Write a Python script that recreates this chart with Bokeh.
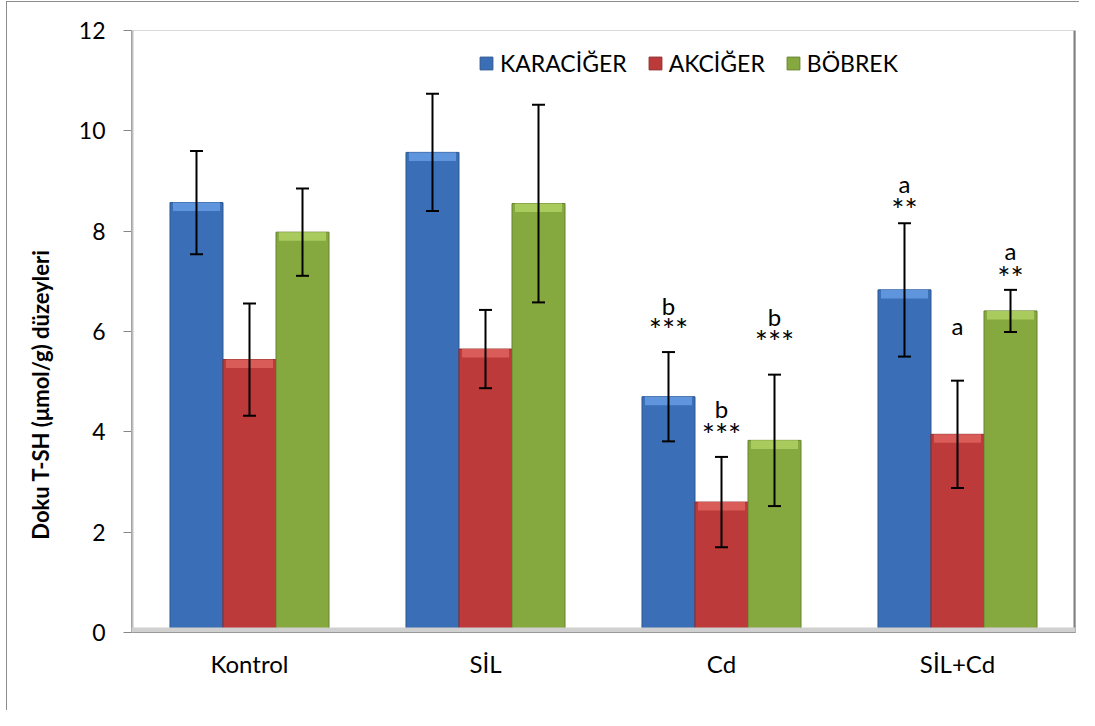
from bokeh.plotting import figure
from bokeh.models import (ColumnDataSource, Whisker, Legend, LegendItem,
                          Span, FactorRange, Range1d, FixedTicker, TeeHead)
from bokeh.transform import dodge
from bokeh.core.properties import value
from bokeh.embed import file_html
from bokeh.resources import INLINE

# ---------------- data ----------------
groups = ["Kontrol", "SİL", "Cd", "SİL+Cd"]
series = ["KARACİĞER", "AKCİĞER", "BÖBREK"]

karaciger = [8.57, 9.57, 4.70, 6.83]
karaciger_sd = [1.03, 1.17, 0.89, 1.33]
akciger = [5.44, 5.65, 2.60, 3.95]
akciger_sd = [1.12, 0.78, 0.90, 1.07]
bobrek = [7.98, 8.55, 3.83, 6.41]
bobrek_sd = [0.87, 1.97, 1.31, 0.42]

y_ticks = [0, 2, 4, 6, 8, 10, 12]
y_title = "Doku T-SH (μmol/g) düzeyleri"

# significance marks (group, series index, letter, stars)
sig_groups = ["Cd", "Cd", "Cd", "SİL+Cd", "SİL+Cd", "SİL+Cd"]
sig_series = [0, 1, 2, 0, 1, 2]
sig_letters = ["b", "b", "b", "a", "a", "a"]
sig_letter_y = [6.52, 4.47, 6.30, 8.95, 6.11, 7.62]
sig_stars = ["***", "***", "***", "**", "", "**"]
sig_star_y = [6.16, 4.07, 5.94, 8.57, 0.0, 7.21]

# ---------------- styling ----------------
FONT = "Lato"
bar_w = 0.2246
offsets = [-bar_w, 0.0, bar_w]
fills = ["#3A6FB7", "#BC3A3A", "#86A93F"]
lights = ["#5E95DD", "#D95C58", "#A9CB5E"]
edges = ["#2D5790", "#8E2C2C", "#66822F"]

p = figure(x_range=FactorRange(*groups, range_padding=0),
           y_range=Range1d(0, 12),
           width=1079, height=710,
           output_backend="svg", toolbar_location=None,
           min_border_left=131, min_border_right=4,
           min_border_top=30, min_border_bottom=78)
p.styles = {
    "background-color": "white",
    "background-image": "linear-gradient(#8C8C8C,#8C8C8C), linear-gradient(#8C8C8C,#8C8C8C)",
    "background-size": "1px 100%, 100% 1px",
    "background-position": "6px 1px, 6px 1px",
    "background-repeat": "no-repeat",
}
p.background_fill_color = "white"
p.border_fill_alpha = 0
p.outline_line_color = "#D9D9D9"
p.xgrid.visible = False
p.ygrid.visible = False

# 3D-like walls
p.add_layout(Span(location=0, dimension="height", line_color="#BFBFBF", line_width=4))
p.add_layout(Span(location=4, dimension="height", line_color="#7F7F7F", line_width=4))
p.add_layout(Span(location=0.05, dimension="width", line_color="#D0D0D0", line_width=5))

data_vals = [karaciger, akciger, bobrek]
data_sd = [karaciger_sd, akciger_sd, bobrek_sd]
legend_items = []
for i, name in enumerate(series):
    vals = data_vals[i]
    sds = data_sd[i]
    src = ColumnDataSource(dict(
        g=groups, v=vals,
        hi=[v - 0.17 for v in vals],
        up=[v + s for v, s in zip(vals, sds)],
        lo=[v - s for v, s in zip(vals, sds)]))
    r = p.vbar(x=dodge("g", offsets[i], range=p.x_range), top="v", bottom=0,
               width=bar_w, source=src, fill_color=fills[i],
               line_color=edges[i], line_width=1)
    p.vbar(x=dodge("g", offsets[i], range=p.x_range), top="v", bottom="hi",
           width=bar_w - 0.025, source=src, fill_color=lights[i],
           line_color=None)
    w = Whisker(base=dodge("g", offsets[i], range=p.x_range), upper="up",
                lower="lo", source=src, line_color="black", line_width=2,
                level="overlay",
                upper_head=TeeHead(size=13, line_width=2, line_color="black"),
                lower_head=TeeHead(size=13, line_width=2, line_color="black"))
    p.add_layout(w)
    legend_items.append(LegendItem(label=name, renderers=[r]))

# significance labels
for k in range(len(sig_groups)):
    xg = sig_groups[k]
    xo = offsets[sig_series[k]]
    src1 = ColumnDataSource(dict(g=[xg], y=[sig_letter_y[k]], t=[sig_letters[k]]))
    p.text(x=dodge("g", xo, range=p.x_range), y="y", text="t", source=src1,
           text_font=value(FONT), text_font_size="24px", text_align="center",
           text_baseline="alphabetic", text_color="black")
    if sig_stars[k]:
        src2 = ColumnDataSource(dict(g=[xg], y=[sig_star_y[k]], t=[sig_stars[k]]))
        p.text(x=dodge("g", xo, range=p.x_range), y="y", text="t", source=src2,
               text_font=value(FONT), text_font_size="31px", text_align="center",
               text_baseline="middle", text_color="black", y_offset=6)

legend = Legend(items=legend_items, orientation="horizontal",
                location=(347, 555), glyph_width=16, glyph_height=16,
                label_standoff=6, spacing=20, padding=0, margin=0,
                border_line_color=None, background_fill_alpha=0,
                label_text_font=FONT, label_text_font_size="23px",
                label_text_color="black")
p.add_layout(legend)

# axes
p.yaxis.ticker = FixedTicker(ticks=y_ticks)
p.yaxis.axis_line_color = "#868686"
p.yaxis.major_tick_line_color = "#868686"
p.yaxis.major_tick_out = 8
p.yaxis.major_tick_in = 0
p.yaxis.minor_tick_line_color = None
p.yaxis.major_label_standoff = 18
p.yaxis.major_label_text_font = FONT
p.yaxis.major_label_text_font_size = "23px"
p.yaxis.major_label_text_color = "black"
p.yaxis.axis_label = y_title + "\u2003" * 7 + "\u00a0\u00a0"
p.yaxis.axis_label_text_font = FONT
p.yaxis.axis_label_text_font_size = "22px"
p.yaxis.axis_label_text_font_style = "bold"
p.yaxis.axis_label_text_color = "black"
p.yaxis.axis_label_standoff = 22

p.xaxis.axis_line_color = "#868686"
p.xaxis.major_tick_line_color = None
p.xaxis.major_tick_out = 0
p.xaxis.major_tick_in = 0
p.xaxis.major_label_standoff = 16
p.xaxis.major_label_text_font = FONT
p.xaxis.major_label_text_font_size = "24px"
p.xaxis.major_label_text_color = "black"

open("out.html", "w").write(file_html(p, INLINE))
